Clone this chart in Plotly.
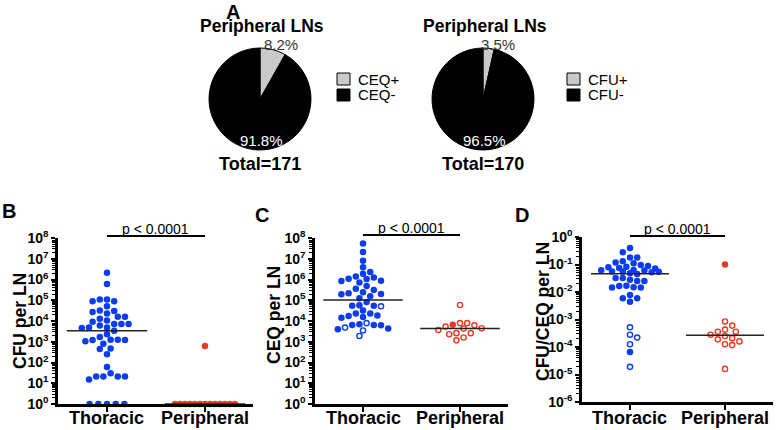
import numpy as np
import plotly.graph_objects as go

W, H = 776, 430

# ---------------- data ----------------
pie_title = "Peripheral LNs"
ceq_labels = ["CEQ+", "CEQ-"]
ceq_counts = [14, 157]
cfu_labels = ["CFU+", "CFU-"]
cfu_counts = [6, 164]

groups = ["Thoracic", "Peripheral"]

# Panel B: CFU per LN
cfu_thoracic = [2.1e6, 6.0e5, 1.1e5, 9.0e4, 9.0e4, 1.1e5, 5.1e4, 3.2e4, 2.7e4, 2.3e4,
                3.0e4, 1.6e4, 1.05e4, 1.6e4, 1.3e4, 9.3e3, 7.2e3, 7.2e3, 7.2e3, 6.0e3,
                4.8e3, 4.6e3, 4.8e3, 3.4e3, 2.3e3, 1.7e3, 1.25e3, 1.2e3, 1.25e3, 8.1e2,
                1.05e3, 1.2e3, 4.5e2, 4.7e2, 2.5e2, 60, 30, 21, 21, 15, 21, 21,
                1, 1, 1, 1, 1]
cfu_thoracic_open = []
cfu_peripheral = [630, 1, 1, 1, 1, 1, 1, 1, 1, 1, 1, 1, 1, 1]
cfu_peripheral_open = []

# Panel C: CEQ per LN
ceq_thoracic = [5.4e7, 2.1e7, 8.1e6, 3.9e6, 1.9e6, 1.26e6, 2.3e6, 1.1e6, 8.7e5, 7.1e5,
                1.4e6, 8.5e5, 1.05e6, 4.9e5, 3.6e5, 3.1e5, 2.4e5, 2.0e5, 1.55e5, 1.95e5,
                2.15e5, 1.25e5, 8.3e4, 5.8e4, 5.5e4, 5.5e4, 3.2e4, 2.3e4, 1.75e4, 1.85e4,
                2.3e4, 1.55e4, 1.45e4, 6.5e3, 6.5e3, 6.2e3, 6.9e3, 4.0e3, 4.3e3]
ceq_thoracic_open = [5.1e4, 7.9e3, 4.8e3, 3.5e3, 1.9e3]
ceq_peripheral = [6.6e3]
ceq_peripheral_open = [5.9e4, 7.9e3, 5.4e3, 4.5e3, 3.7e3, 4.3e3, 6.2e3, 7.9e3,
                       2.6e3, 2.3e3, 2.6e3, 1.17e3, 1.6e3]

# Panel D: CFU/CEQ per LN
ratio_thoracic = [0.40, 0.28, 0.18, 0.18, 0.117, 0.095, 0.083, 0.072, 0.074, 0.079,
                  0.089, 0.11, 0.13, 0.063, 0.060, 0.052, 0.045, 0.056, 0.048, 0.054,
                  0.056, 0.062, 0.028, 0.025, 0.032, 0.032, 0.025, 0.0166, 0.0145, 0.0145,
                  0.0148, 0.017, 0.0059, 0.0044, 0.0059, 0.0078, 6.6e-5]
ratio_thoracic_open = [5.2e-4, 2.2e-4, 2.8e-4, 1.26e-4, 1.9e-5]
ratio_peripheral = [0.1]
ratio_peripheral_open = [8.5e-4, 6.0e-4, 4.3e-4, 3.6e-4, 2.8e-4, 3.6e-4, 2.5e-4,
                         1.9e-4, 1.26e-4, 1.17e-4, 1.6e-4, 2.1e-4, 1.6e-5]

p_text = "p &lt; 0.0001"

# ---------------- style ----------------
FONT = "Liberation Sans, Arial, Helvetica, sans-serif"
BLUE = "#0b3cf0"
RED = "#ec3a22"
COLORS = [BLUE, RED]
PIE_COLORS = ["#c9c9c9", "#000000"]


def fx(p):
    return p / W


def fy(p):
    return 1 - p / H


panels = [
    dict(letter="B", letter_pos=(9, 211), xd=(58, 253), yd=(238, 404), yr=(0, 8), xr=(-0.5, 1.49),
         title="CFU per LN", title_pos=(20, 321), pline=236, ptext=229,
         data=[(cfu_thoracic, cfu_thoracic_open), (cfu_peripheral, cfu_peripheral_open)]),
    dict(letter="C", letter_pos=(262, 215), xd=(315, 508), yd=(238, 404), yr=(0, 8), xr=(-0.495, 1.495),
         title="CEQ per LN", title_pos=(274, 315), pline=235, ptext=228,
         data=[(ceq_thoracic, ceq_thoracic_open), (ceq_peripheral, ceq_peripheral_open)]),
    dict(letter="D", letter_pos=(522, 215), xd=(582, 773), yd=(237, 402), yr=(-6, 0), xr=(-0.505, 1.505),
         title="CFU/CEQ per LN", title_pos=(543, 312), pline=236, ptext=229,
         data=[(ratio_thoracic, ratio_thoracic_open), (ratio_peripheral, ratio_peripheral_open)]),
]


def swarm_offsets(values, px_per_decade, step=3.6, min_dist=6.4, half_width=29.0):
    """Simple beeswarm: offsets (px) on a grid, limited to +/- half_width."""
    v = np.asarray(values, float)
    ys = np.log10(v) * px_per_decade
    n = len(v)
    xs = np.full(n, np.nan)
    placed = []
    uniq, counts = np.unique(v, return_counts=True)
    for u, c in zip(uniq, counts):
        if c >= 5:  # large ties: evenly spread row
            idx = np.where(v == u)[0]
            sp = min(8.7, 2 * (half_width + 1) / (c - 1))
            offs = (np.arange(c) - (c - 1) / 2) * sp
            xs[idx] = offs
            placed.extend(zip(offs, ys[idx]))
    order = [i for i in np.argsort(-ys, kind="stable") if np.isnan(xs[i])]
    kmax = int(half_width // step)
    side = 1
    for i in order:
        cands = [0.0]
        for k in range(1, kmax + 1):
            cands += [side * k * step, -side * k * step]
        found, best, best_d = None, None, -1.0
        for x in cands:
            d = min([np.hypot(x - a, ys[i] - b) for a, b in placed] or [1e9])
            if d >= min_dist:
                found = x
                break
            if d > best_d:
                best, best_d = x, d
        xs[i] = found if found is not None else best
        placed.append((xs[i], ys[i]))
        side = -side
    return xs


def ann(text, x, y, size, color="black", **kw):
    d = dict(text=text, x=fx(x), y=fy(y), xref="paper", yref="paper", showarrow=False,
             xanchor="center", yanchor="middle", font=dict(size=size, color=color, family=FONT))
    d.update(kw)
    return d


fig = go.Figure()
annotations = []
shapes = []

# ---------------- pies ----------------
pie_specs = [
    (ceq_labels, ceq_counts, (209, 311), 260, (281, 45), (261, 141), 337),
    (cfu_labels, cfu_counts, (432, 534), 483, (498, 45), (484, 141), 567),
]
for labels, counts, xdom, cx, pos_small, pos_big, legx in pie_specs:
    fig.add_trace(go.Pie(
        labels=labels, values=counts, sort=False, direction="clockwise", rotation=0,
        textinfo="none", hoverinfo="label+value",
        marker=dict(colors=PIE_COLORS, line=dict(color="#000000", width=1)),
        domain=dict(x=[fx(xdom[0]), fx(xdom[1])], y=[fy(150), fy(48)]),
        showlegend=False, automargin=False,
    ))
    tot = sum(counts)
    annotations.append(ann(f"<b>{pie_title}</b>", cx + 2, 26, 17.5))
    annotations.append(ann(f"{100 * counts[0] / tot:.1f}%", pos_small[0], pos_small[1], 15, "#333333"))
    annotations.append(ann(f"{100 * counts[1] / tot:.1f}%", pos_big[0], pos_big[1], 15, "white"))
    annotations.append(ann(f"<b>Total={tot}</b>", cx, 164, 18))
    # legend (swatch + label)
    for li, lab in enumerate(labels):
        yc = 79 + 16 * li
        shapes.append(dict(type="rect", xref="paper", yref="paper",
                           x0=fx(legx), x1=fx(legx + 13), y0=fy(yc + 6), y1=fy(yc - 6),
                           fillcolor=PIE_COLORS[li], line=dict(color="#000000", width=1)))
        annotations.append(ann(lab, legx + 19, yc, 15, xanchor="left"))

annotations.append(ann("<b>A</b>", 233, 12, 20))

# ---------------- scatter panels ----------------
layout_axes = {}
for pi, p in enumerate(panels):
    sfx = "" if pi == 0 else str(pi + 1)
    xa, ya = "x" + sfx, "y" + sfx
    px_per_dec = (p["yd"][1] - p["yd"][0]) / (p["yr"][1] - p["yr"][0])
    px_per_unit = (p["xd"][1] - p["xd"][0]) / (p["xr"][1] - p["xr"][0])
    for gi, (filled, opened) in enumerate(p["data"]):
        allv = list(filled) + list(opened)
        offs = swarm_offsets(allv, px_per_dec) / px_per_unit
        nf = len(filled)
        xf = gi + offs[:nf]
        xo = gi + offs[nf:]
        if nf:
            fig.add_trace(go.Scatter(x=xf, y=filled, mode="markers", xaxis=xa, yaxis=ya,
                                     marker=dict(size=6.5, color=COLORS[gi], line=dict(width=0)),
                                     cliponaxis=False, showlegend=False))
        if len(opened):
            fig.add_trace(go.Scatter(x=xo, y=opened, mode="markers", xaxis=xa, yaxis=ya,
                                     marker=dict(size=5.2, color="white", symbol="circle",
                                                 line=dict(width=1.4, color=COLORS[gi])),
                                     cliponaxis=False, showlegend=False))
        med = float(np.median(allv))
        fig.add_trace(go.Scatter(x=[gi - 0.41, gi + 0.41], y=[med, med], mode="lines",
                                 xaxis=xa, yaxis=ya, line=dict(color="#222222", width=1.5),
                                 cliponaxis=False, showlegend=False, hoverinfo="skip"))
        # category label under the axis
        annotations.append(dict(text=f"<b>{groups[gi]}</b>", x=gi, xref=xa, y=fy(418), yref="paper",
                                xanchor="center", yanchor="middle", showarrow=False,
                                font=dict(size=18, color="black", family=FONT)))
    lo, hi = p["yr"]
    layout_axes["xaxis" + sfx] = dict(
        domain=[fx(p["xd"][0]), fx(p["xd"][1])], range=list(p["xr"]), anchor=ya,
        tickmode="array", tickvals=[0, 1], showticklabels=False,
        ticks="outside", ticklen=5, tickwidth=2, tickcolor="black",
        showline=True, linewidth=2.5, linecolor="black", showgrid=False, zeroline=False,
        fixedrange=True, automargin=False)
    layout_axes["yaxis" + sfx] = dict(
        domain=[fy(p["yd"][1]), fy(p["yd"][0])], type="log", range=[lo, hi], anchor=xa,
        tickmode="array", tickvals=[10.0 ** k for k in range(lo, hi + 1)],
        ticktext=[f"10<sup>{k}</sup>" for k in range(lo, hi + 1)],
        tickfont=dict(size=14, color="black", family=FONT, weight="bold"),
        ticks="outside", ticklen=4, tickwidth=2, tickcolor="black",
        minor=dict(ticks="outside", ticklen=3, tickwidth=1, tickcolor="black", dtick="D1", showgrid=False),
        showline=True, linewidth=2.5, linecolor="black", showgrid=False, zeroline=False,
        fixedrange=True, automargin=False)
    # significance bar
    shapes.append(dict(type="line", xref=xa, yref="paper", x0=0, x1=1.0,
                       y0=fy(p["pline"]), y1=fy(p["pline"]), line=dict(color="black", width=1.8)))
    annotations.append(dict(text=p_text, x=0.5, xref=xa, y=fy(p["ptext"]), yref="paper",
                            xanchor="center", yanchor="middle",
                            showarrow=False, font=dict(size=14, color="black", family=FONT)))
    annotations.append(ann(f"<b>{p['title']}</b>", p["title_pos"][0], p["title_pos"][1], 17.5, textangle=-90))
    annotations.append(ann(f"<b>{p['letter']}</b>", p["letter_pos"][0], p["letter_pos"][1], 20))

fig.update_layout(
    width=W, height=H, margin=dict(l=0, r=0, t=0, b=0, pad=0, autoexpand=False),
    paper_bgcolor="white", plot_bgcolor="white",
    font=dict(family=FONT, color="black"),
    annotations=annotations, shapes=shapes, showlegend=False,
    **layout_axes,
)

fig.write_html("out.html", config={"displayModeBar": False},
               post_script="document.body.style.margin='0px';")
